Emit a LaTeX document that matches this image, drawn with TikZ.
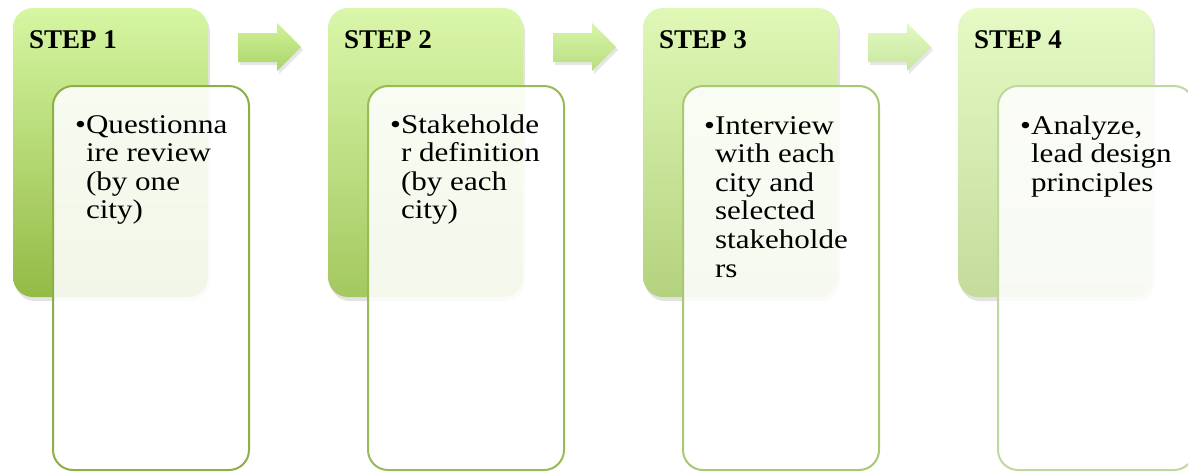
\documentclass[tikz,border=0pt]{standalone}
\usepackage{fontspec}
\setmainfont{Liberation Serif}[FakeStretch=1.15]
\newfontfamily\headfont{Liberation Serif}
\usetikzlibrary{shadows}
\definecolor{gtopA}{RGB}{214,246,162}
\definecolor{gbotA}{RGB}{148,186,70}
\definecolor{gtopB}{RGB}{218,247,170}
\definecolor{gbotB}{RGB}{164,200,96}
\definecolor{gtopC}{RGB}{223,248,182}
\definecolor{gbotC}{RGB}{180,210,126}
\definecolor{gtopD}{RGB}{229,250,196}
\definecolor{gbotD}{RGB}{196,219,156}
\definecolor{bordA}{RGB}{140,175,72}
\definecolor{bordB}{RGB}{152,186,88}
\definecolor{bordC}{RGB}{168,200,116}
\definecolor{bordD}{RGB}{192,216,160}
\definecolor{atopA}{RGB}{208,242,152}
\definecolor{abotA}{RGB}{170,212,105}
\definecolor{atopB}{RGB}{216,245,168}
\definecolor{abotB}{RGB}{184,222,128}
\definecolor{atopC}{RGB}{226,249,192}
\definecolor{abotC}{RGB}{200,230,160}
\begin{document}
\begin{tikzpicture}[x=1pt,y=-1pt,
  greenbox/.style={rounded corners=20pt,
    drop shadow={shadow xshift=2pt,shadow yshift=-4pt,opacity=0.22}},
  whitebox/.style={rounded corners=20pt, line width=2pt, fill=white, fill opacity=0.88},
  blockarrow/.style={drop shadow={shadow xshift=2pt,shadow yshift=-3pt,opacity=0.2}},
  head/.style={anchor=base west, inner sep=0pt, font=\headfont\fontsize{27}{30}\selectfont\bfseries},
  body/.style={anchor=base west, inner sep=0pt, font=\fontsize{27}{28.6}\selectfont}]
\useasboundingbox (0,0) rectangle (1188,472);
\foreach \i/\c in {0/A,1/B,2/C,3/D}{
  \pgfmathsetmacro{\dx}{315*\i}
  \path[greenbox, top color=gtop\c, bottom color=gbot\c]
    (13+\dx,8) rectangle (208+\dx,297);
  \draw[whitebox, draw=bord\c] (53+\dx,86) rectangle (249+\dx,470);
}
\foreach \i/\c in {0/A,1/B,2/C}{
  \pgfmathsetmacro{\dx}{315*\i}
  \path[blockarrow, top color=atop\c, bottom color=abot\c]
    (238+\dx,33) -- (277+\dx,33) -- (277+\dx,23) -- (301+\dx,47)
    -- (277+\dx,71) -- (277+\dx,62) -- (238+\dx,62) -- cycle;
}
\node[head] (h1) at (29,48) {STEP 1};
\node[head] (h2) at (344,48) {STEP 2};
\node[head] (h3) at (659,48) {STEP 3};
\node[head] (h4) at (974,48) {STEP 4};
\node[body] (t1) at (75,133) {\begin{tabular}[t]{@{}l@{}l@{}}\textbullet&Questionna\\&ire review\\&(by one\\&city)\end{tabular}};
\node[body] (t2) at (390,133) {\begin{tabular}[t]{@{}l@{}l@{}}\textbullet&Stakeholde\\&r definition\\&(by each\\&city)\end{tabular}};
\node[body] (t3) at (704,134) {\begin{tabular}[t]{@{}l@{}l@{}}\textbullet&Interview\\&with each\\&city and\\&selected\\&stakeholde\\&rs\end{tabular}};
\node[body] (t4) at (1020,134) {\begin{tabular}[t]{@{}l@{}l@{}}\textbullet&Analyze,\\&lead design\\&principles\end{tabular}};
\end{tikzpicture}
\end{document}
